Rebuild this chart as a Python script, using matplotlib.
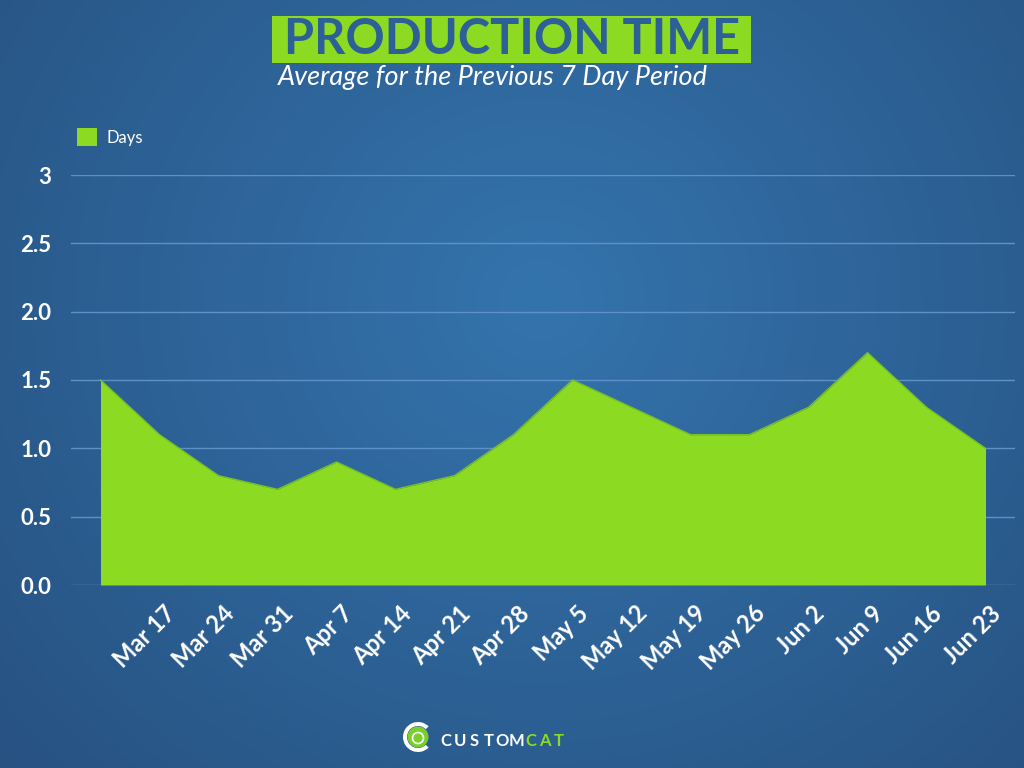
import numpy as np
import matplotlib
matplotlib.use("Agg")
import matplotlib.pyplot as plt
from matplotlib.patches import Rectangle, Patch, Circle, Wedge
from matplotlib.transforms import ScaledTranslation

# datos
semanas = ["", "Mar 17", "Mar 24", "Mar 31", "Apr 7", "Apr 14", "Apr 21", "Apr 28",
           "May 5", "May 12", "May 19", "May 26", "Jun 2", "Jun 9", "Jun 16", "Jun 23"]
dias = [1.5, 1.1, 0.8, 0.7, 0.9, 0.7, 0.8, 1.1, 1.5, 1.3, 1.1, 1.1, 1.3, 1.7, 1.3, 1.0]
y_ticks = [0.0, 0.5, 1.0, 1.5, 2.0, 2.5, 3.0]
y_labels = ["0.0", "0.5", "1.0", "1.5", "2.0", "2.5", "3"]

VERDE = "#8cdb22"
AZUL_TEXTO = "#2c6096"
GRID = "#5d92c8"
FUENTE = "Lato"

W, H = 1024, 768
fig = plt.figure(figsize=(W / 100, H / 100), dpi=100)

# fondo con degradado radial
bg = fig.add_axes([0, 0, 1, 1], zorder=-10)
yy, xx = np.mgrid[0:H, 0:W]
d = np.sqrt(((xx - 540) / 1.0) ** 2 + ((yy - 300) / 0.95) ** 2) / 720
d = np.clip(d, 0, 1)
c_in = np.array([0x34, 0x74, 0xad]) / 255
c_out = np.array([0x27, 0x52, 0x82]) / 255
img = c_in[None, None, :] * (1 - d[..., None]) + c_out[None, None, :] * d[..., None]
bg.imshow(img, aspect="auto", extent=[0, 1, 0, 1], origin="upper")
bg.axis("off")

# grafica principal
ax = fig.add_axes([71 / W, (H - 585) / H, (1015 - 71) / W, (585 - 175) / H])
ax.set_facecolor("none")
x = np.arange(len(dias))
ax.fill_between(x, dias, 0, color=VERDE, lw=0, zorder=3)
ax.plot(x, dias, color="#79c21f", lw=1.0, zorder=4)
ax.set_xlim(-0.5, len(dias) - 0.5)
ax.set_ylim(0, 3)
ax.set_yticks(y_ticks)
ax.set_yticklabels(y_labels)
ax.set_xticks(x[1:])
ax.set_xticklabels(semanas[1:], rotation=45, ha="right", va="top", rotation_mode="anchor")
for s in ax.spines.values():
    s.set_visible(False)
ax.grid(axis="y", color=GRID, lw=1.0, zorder=1)
ax.tick_params(length=0, colors="white")
ax.tick_params(axis="y", pad=14)
ax.tick_params(axis="x", pad=12)
for lab in ax.get_yticklabels():
    lab.set_fontfamily(FUENTE)
    lab.set_fontweight("bold")
    lab.set_fontsize(16)
for lab in ax.get_xticklabels():
    lab.set_fontfamily(FUENTE)
    lab.set_fontweight("bold")
    lab.set_fontsize(17)
    lab.set_transform(lab.get_transform() + ScaledTranslation(4 / 100, 0, fig.dpi_scale_trans))

# titulo
fig.patches.append(Rectangle((272 / W, (H - 63) / H), 479 / W, 47 / H,
                             transform=fig.transFigure, facecolor=VERDE, edgecolor="none"))
fig.text(511.5 / W, (H - 40) / H, "PRODUCTION TIME", ha="center", va="center",
         fontsize=35, fontweight="bold", color=AZUL_TEXTO, family=FUENTE)
fig.text(493 / W, (H - 78) / H, "Average for the Previous 7 Day Period", ha="center",
         va="center", fontsize=19.5, style="italic", color="white", family=FUENTE)

# leyenda
fig.legend(handles=[Patch(facecolor=VERDE, edgecolor="none", label="Days")],
           loc="center left", bbox_to_anchor=(69 / W, (H - 137) / H), frameon=False,
           borderpad=0, handlelength=1.2, handleheight=1.2, handletextpad=0.55,
           prop={"family": FUENTE, "size": 12}, labelcolor="white")

# logo
fig.patches.append(Wedge((418, H - 737), 15, 45, 315, width=4, transform=None,
                         facecolor="white", edgecolor="none"))
fig.patches.append(Circle((418, H - 737), 10.5, transform=None, facecolor="#7ccf2a",
                          edgecolor="none"))
fig.patches.append(Circle((418, H - 738), 5.5, transform=None, facecolor="none",
                          edgecolor="white", lw=1.2))
letras = "CUSTOMCAT"
for i, ch in enumerate(letras):
    fig.text((446 + i * 14.1) / W, (H - 741) / H, ch, ha="center", va="center",
             fontsize=12, fontweight="bold", family=FUENTE,
             color="white" if i < 6 else VERDE)

fig.savefig("out.png", dpi=100)
